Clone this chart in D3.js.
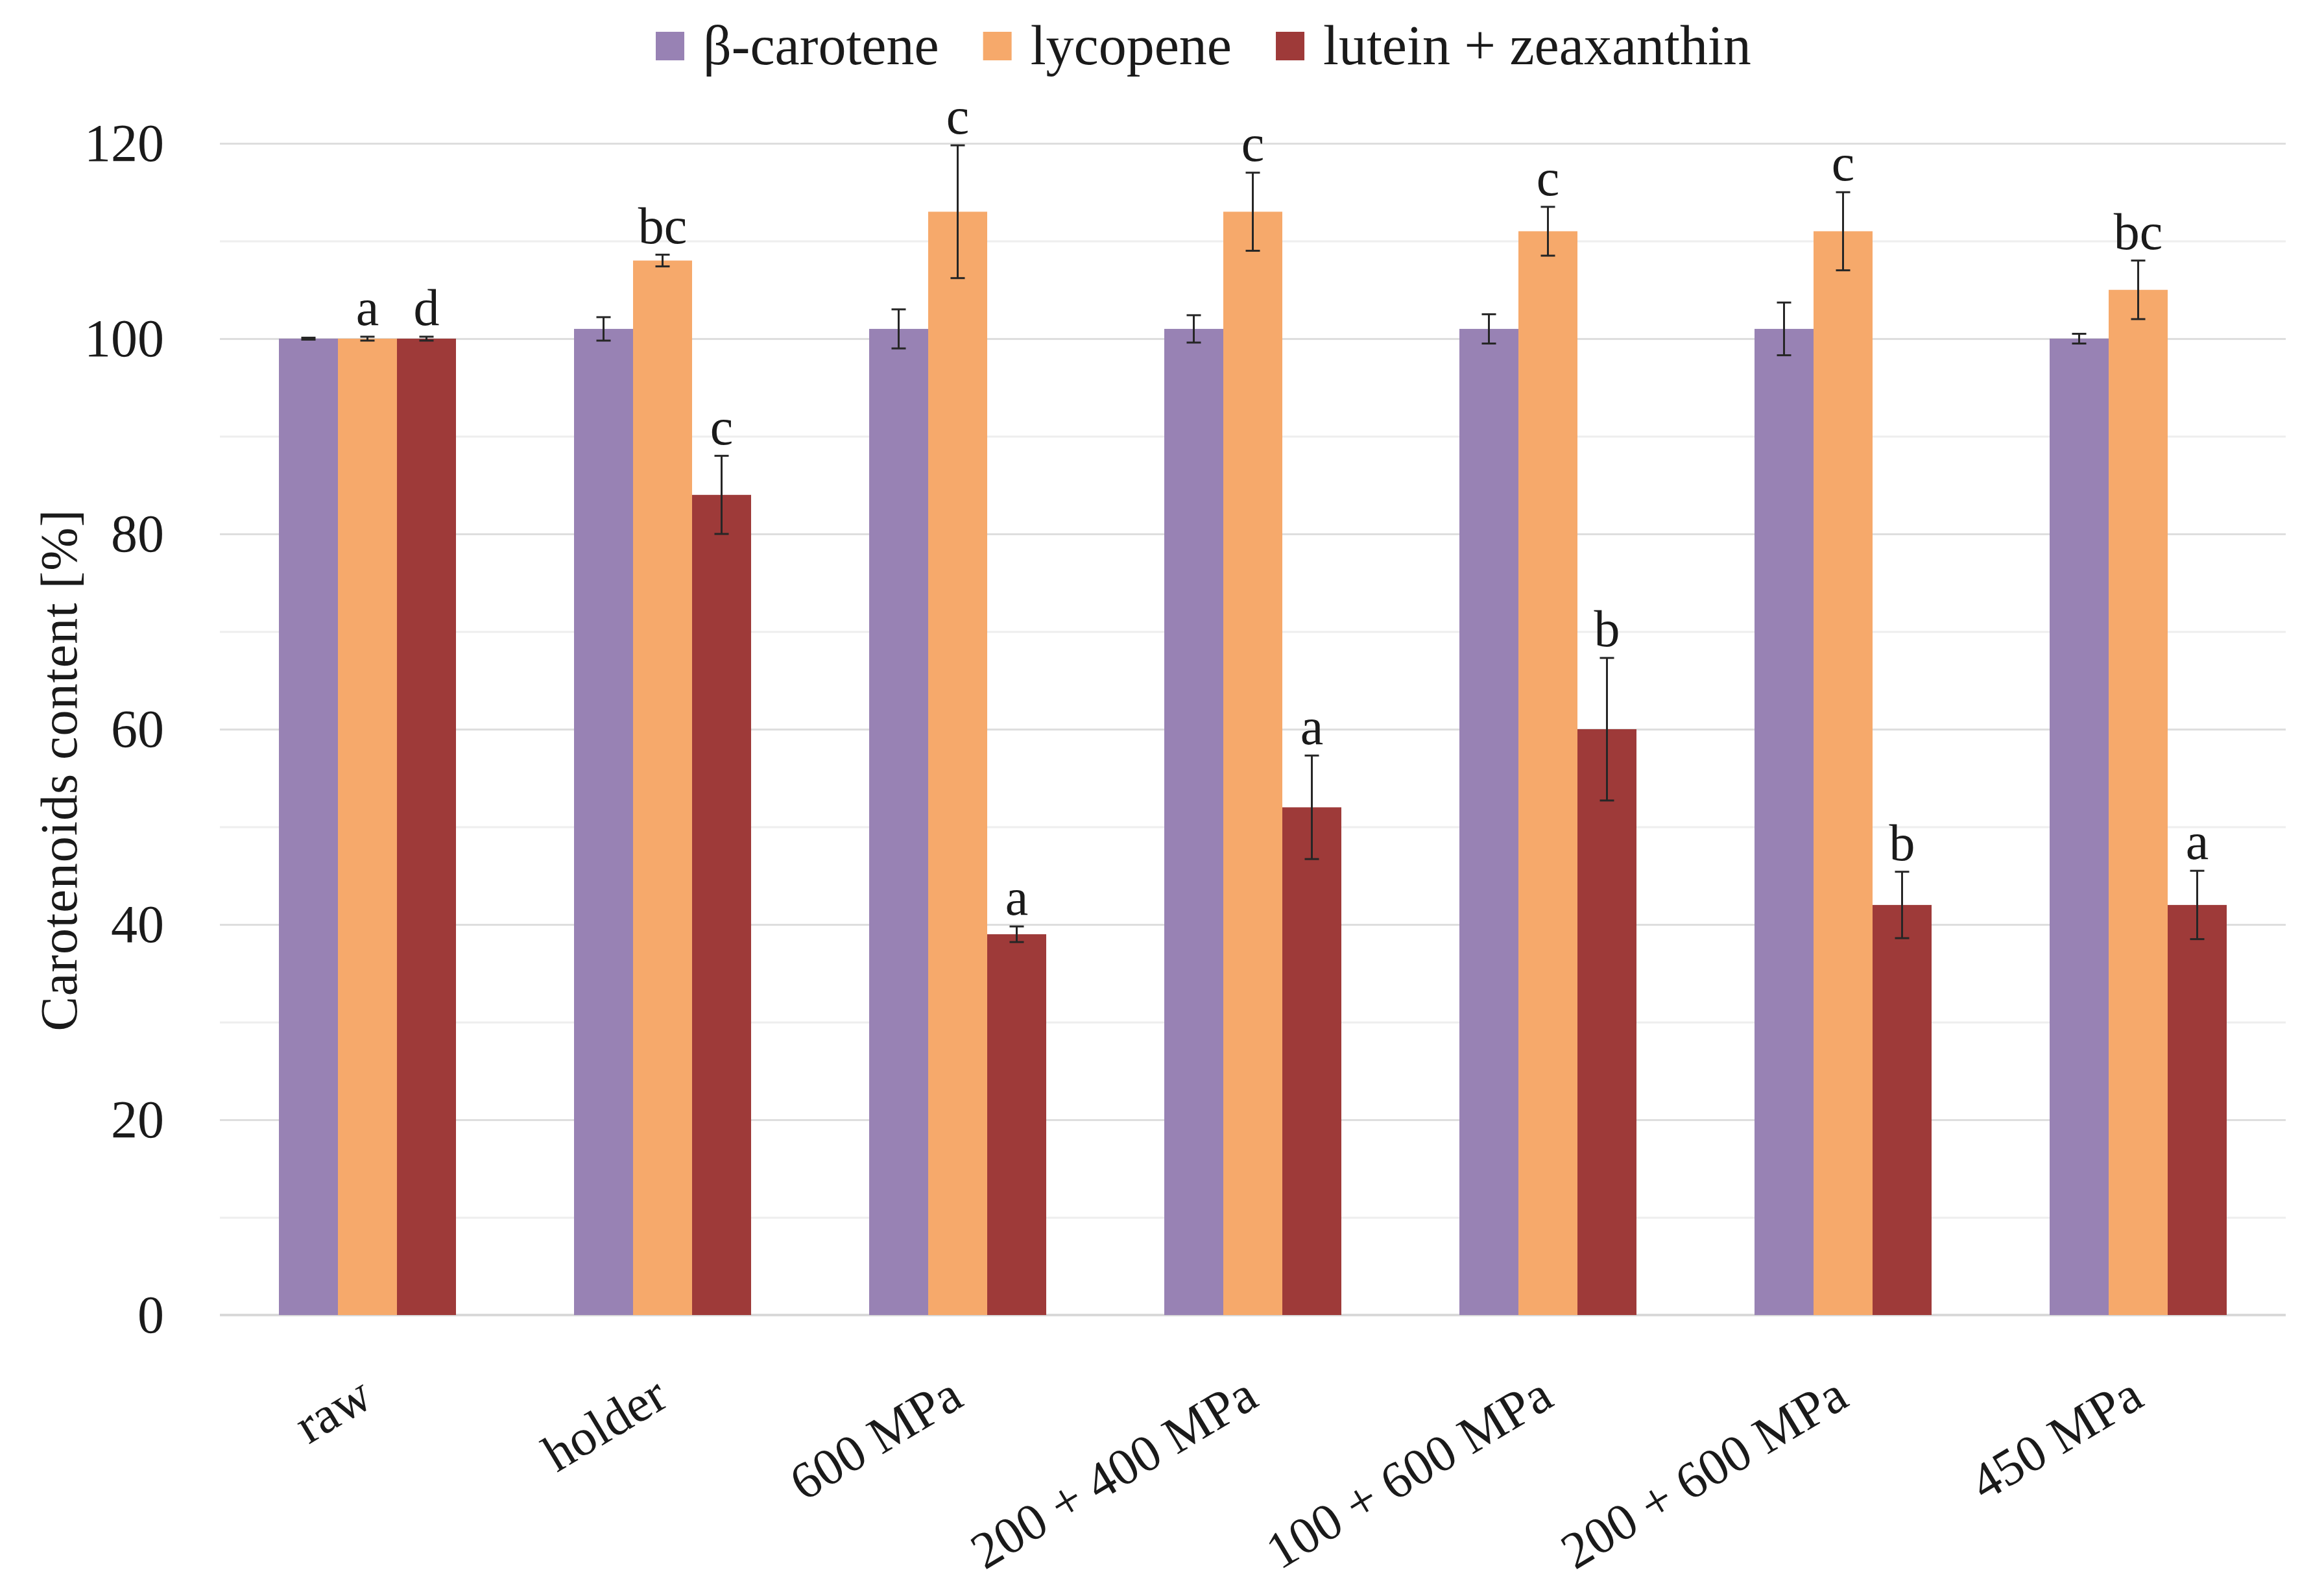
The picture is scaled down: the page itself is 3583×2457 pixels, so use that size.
<!DOCTYPE html>
<html>
<head>
<meta charset="utf-8">
<script src="https://cdn.jsdelivr.net/npm/d3@7"></script>
<style>
  html, body { margin: 0; padding: 0; background: #ffffff; }
  svg { display: block; }
  text { font-family: "Liberation Serif", "DejaVu Serif", serif; fill: #1a1a1a; }
</style>
</head>
<body>
<svg id="chart" width="3583" height="2457"></svg>
<script>
// ---- data ----
const categories = ["raw", "holder", "600 MPa", "200 + 400 MPa", "100 + 600 MPa", "200 + 600 MPa", "450 MPa"];
const seriesNames = ["β-carotene", "lycopene", "lutein + zeaxanthin"];
const seriesColors = ["#9882B4", "#F6A96B", "#9E3A39"];
const betaCarotene = [100, 101, 101, 101, 101, 101, 100];
const betaCaroteneErr = [0.1, 1.2, 2.0, 1.4, 1.5, 2.7, 0.5];
const lycopene = [100, 108, 113, 113, 111, 111, 105];
const lycopeneErr = [0.2, 0.6, 6.8, 4.0, 2.5, 4.0, 3.0];
const lutein = [100, 84, 39, 52, 60, 42, 42];
const luteinErr = [0.2, 4.0, 0.8, 5.3, 7.3, 3.4, 3.5];
const lycopeneLetters = ["a", "bc", "c", "c", "c", "c", "bc"];
const luteinLetters = ["d", "c", "a", "a", "b", "b", "a"];
const betaCaroteneLetters = ["", "", "", "", "", "", ""];
const yTickValues = [0, 20, 40, 60, 80, 100, 120];
const yGridValues = [10, 20, 30, 40, 50, 60, 70, 80, 90, 100, 110, 120];
const yTitle = "Carotenoids content [%]";

const seriesValues = [betaCarotene, lycopene, lutein];
const seriesErrors = [betaCaroteneErr, lycopeneErr, luteinErr];
const seriesLetters = [betaCaroteneLetters, lycopeneLetters, luteinLetters];

// ---- layout ----
const svg = d3.select("#chart");
svg.append("rect").attr("width", 3583).attr("height", 2457).attr("fill", "#ffffff");

const plot = { left: 339, right: 3524, top: 221, bottom: 2027 };

const x0 = d3.scaleBand().domain(categories).range([plot.left, plot.right]).paddingInner(0).paddingOuter(0);
const groupWidth = x0.bandwidth() * 0.6;
const x1 = d3.scaleBand().domain(seriesNames).range([0, groupWidth]).padding(0);
const y = d3.scaleLinear().domain([0, 120]).range([plot.bottom, plot.top]);

// gridlines
const grid = svg.append("g").attr("class", "grid")
  .attr("transform", `translate(${plot.left},0)`)
  .call(d3.axisLeft(y).tickValues(yGridValues).tickSize(-(plot.right - plot.left)).tickFormat(""));
grid.select(".domain").remove();
grid.selectAll(".tick line")
  .attr("stroke", d => d % 20 === 0 ? "#dedede" : "#eeeeee")
  .attr("stroke-width", 3);

// baseline
svg.append("line")
  .attr("x1", plot.left).attr("x2", plot.right)
  .attr("y1", y(0)).attr("y2", y(0))
  .attr("stroke", "#d9d9d9").attr("stroke-width", 4);

// y axis labels
const yAxis = svg.append("g")
  .attr("transform", `translate(253,0)`)
  .call(d3.axisLeft(y).tickValues(yTickValues).tickSize(0).tickPadding(0).tickFormat(d3.format("d")));
yAxis.select(".domain").remove();
yAxis.selectAll(".tick text")
  .attr("x", 0)
  .style("font-family", "'Liberation Serif', serif")
  .style("font-size", "82px")
  .attr("fill", "#1a1a1a")
  .attr("text-anchor", "end")
  .attr("dy", "0.32em");

// y title
svg.append("text")
  .attr("transform", `translate(90,${(plot.top + plot.bottom) / 2 + 63}) rotate(-90)`)
  .attr("text-anchor", "middle")
  .attr("dy", "0.35em")
  .style("font-size", "80px")
  .style("letter-spacing", "1px")
  .text(yTitle);

// bars
const groups = svg.append("g").selectAll("g.group")
  .data(categories)
  .join("g")
  .attr("class", "group")
  .attr("transform", d => `translate(${x0(d) + (x0.bandwidth() - groupWidth) / 2},0)`);

seriesNames.forEach((s, si) => {
  groups.append("rect")
    .attr("x", x1(s))
    .attr("width", x1.bandwidth())
    .attr("y", (d, i) => y(seriesValues[si][i]))
    .attr("height", (d, i) => y(0) - y(seriesValues[si][i]))
    .attr("fill", seriesColors[si]);
});

// error bars
const capW = 22;
seriesNames.forEach((s, si) => {
  const cx = x1(s) + x1.bandwidth() / 2;
  groups.each(function (d, i) {
    const g = d3.select(this);
    const v = seriesValues[si][i], e = seriesErrors[si][i];
    const yt = y(v + e), yb = y(v - e);
    g.append("line").attr("x1", cx).attr("x2", cx).attr("y1", yt).attr("y2", yb)
      .attr("stroke", "#262626").attr("stroke-width", 3);
    g.append("line").attr("x1", cx - capW / 2).attr("x2", cx + capW / 2).attr("y1", yt).attr("y2", yt)
      .attr("stroke", "#262626").attr("stroke-width", 3);
    g.append("line").attr("x1", cx - capW / 2).attr("x2", cx + capW / 2).attr("y1", yb).attr("y2", yb)
      .attr("stroke", "#262626").attr("stroke-width", 3);
    const letter = seriesLetters[si][i];
    if (letter) {
      g.append("text")
        .attr("x", cx)
        .attr("y", yt - 18)
        .attr("text-anchor", "middle")
        .style("font-size", "80px")
        .text(letter);
    }
  });
});

// x labels
svg.append("g").selectAll("text.xlab")
  .data(categories)
  .join("text")
  .attr("class", "xlab")
  .attr("transform", d => `translate(${x0(d) + x0.bandwidth() / 2 + 12},${plot.bottom + 138}) rotate(-31)`)
  .attr("text-anchor", "end")
  .style("font-size", "80px")
  .text(d => d);

// legend
const legend = svg.append("g").attr("class", "legend");
let lx = 1011;
const legendY = 71;
seriesNames.forEach((s, si) => {
  legend.append("rect")
    .attr("x", lx).attr("y", legendY - 22)
    .attr("width", 44).attr("height", 44)
    .attr("fill", seriesColors[si]);
  const t = legend.append("text")
    .attr("x", lx + 73).attr("y", legendY)
    .attr("dy", "0.32em")
    .style("font-size", "86px")
    .text(s);
  lx = lx + 73 + t.node().getComputedTextLength() + 68;
});
</script>
</body>
</html>
